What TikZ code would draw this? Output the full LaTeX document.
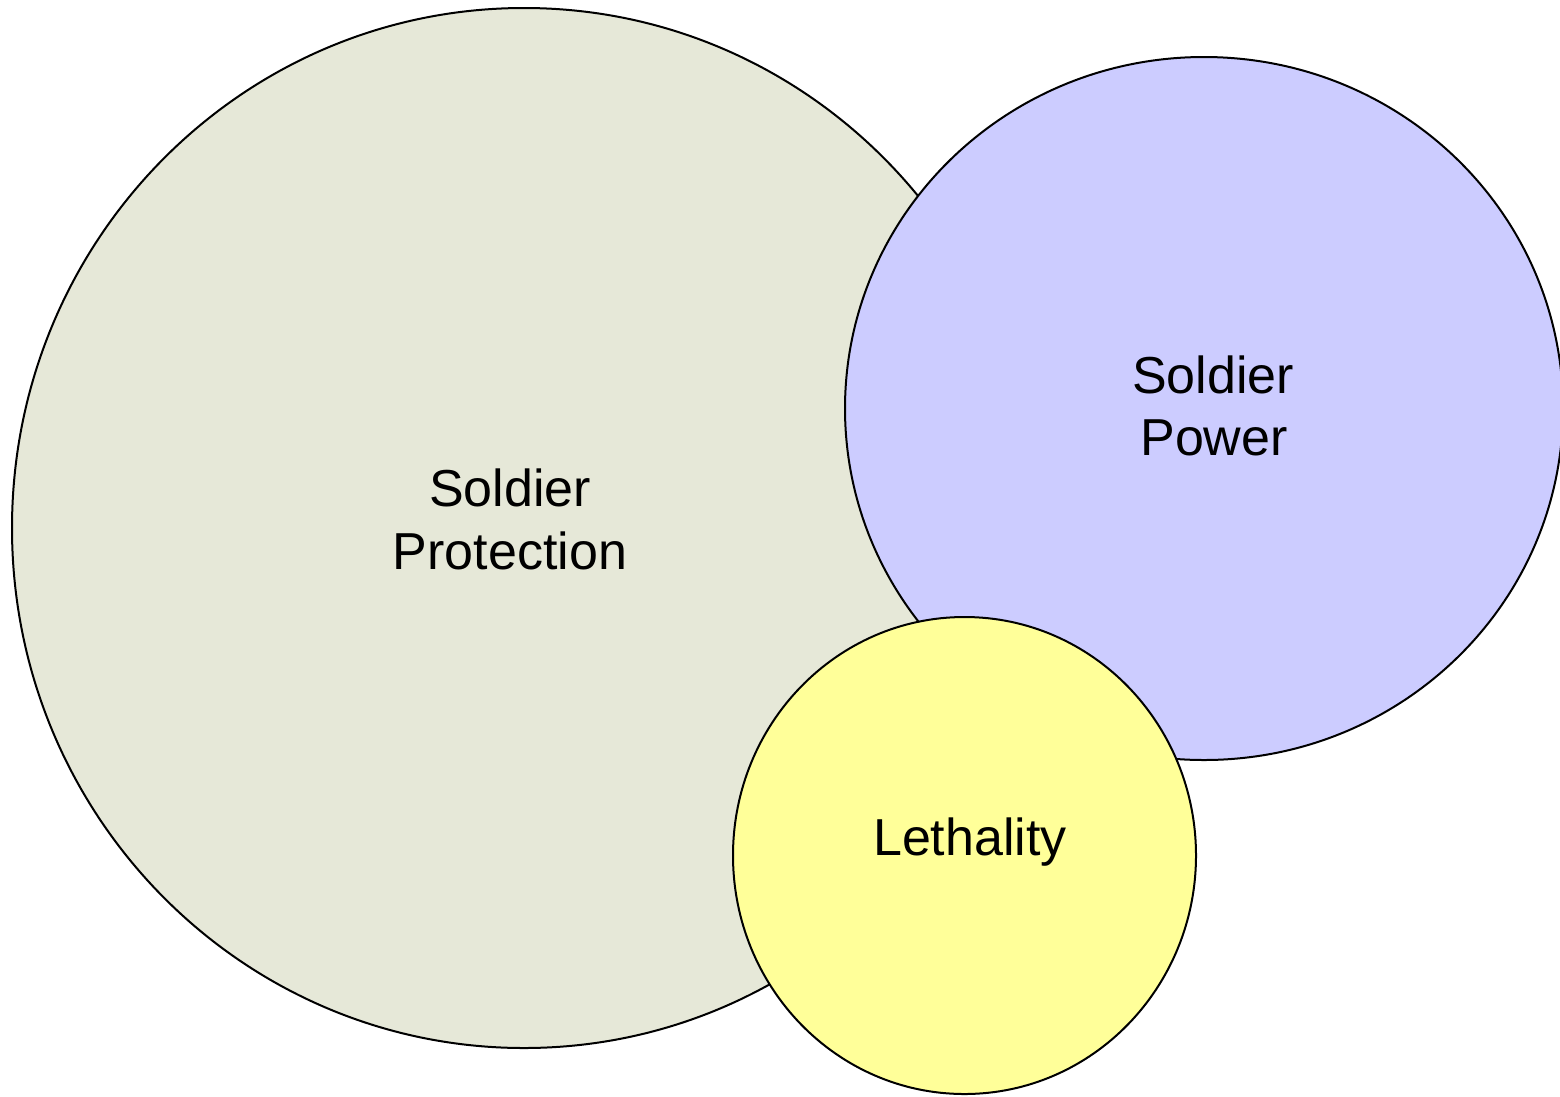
\documentclass[tikz,border=0pt]{standalone}
\usepackage{fontspec}
\setmainfont{Liberation Sans}
\usetikzlibrary{shapes.geometric}
\definecolor{protfill}{HTML}{E6E8D8}
\definecolor{powfill}{HTML}{CCCCFF}
\definecolor{lethfill}{HTML}{FFFF99}
\begin{document}
\begin{tikzpicture}[x=1pt,y=-1pt,
  blob/.style={ellipse,draw=black,line width=2pt,inner sep=0pt},
  lbl/.style={anchor=base,inner sep=0pt,font=\fontsize{52}{63}\selectfont}]
\useasboundingbox (0,0) rectangle (1560,1096);
\begin{scope}
\clip (0,0) rectangle (1560,1096);
\node[blob,fill=protfill,minimum width=1024pt,minimum height=1040pt] (prot) at (524,528) {};
\node[blob,fill=powfill,minimum width=718pt,minimum height=703pt] (pow) at (1204,408.5) {};
\node[blob,fill=lethfill,minimum width=463pt,minimum height=477pt] (leth) at (964.5,855.5) {};
\end{scope}
\node[lbl] (prot1) at (510,506) {Soldier};
\node[lbl] (prot2) at (510,569) {Protection};
\node[lbl] (pow1) at (1213,393) {Soldier};
\node[lbl] (pow2) at (1214,455) {Power};
\node[lbl] (leth1) at (970,855) {Lethality};
\end{tikzpicture}
\end{document}
